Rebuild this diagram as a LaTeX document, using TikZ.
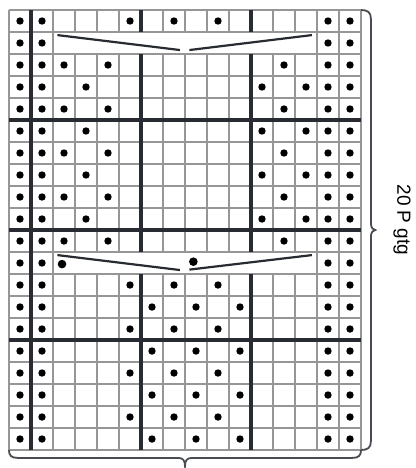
\documentclass[tikz,border=0pt]{standalone}
\usepackage{fontspec}
\setmainfont{Liberation Sans}
\usepackage{xcolor}
\usepackage{tikz}
\definecolor{gridgray}{RGB}{150,150,150}
\definecolor{inkdark}{RGB}{40,43,50}

\begin{document}
\begin{tikzpicture}[x=22pt,y=-22pt,
		gridline/.style={draw=gridgray,line width=1.5pt},
		boldline/.style={draw=inkdark,line width=3.2pt},
		cable/.style={draw=inkdark,line width=2.2pt},
		stitch/.style={fill=black},
		bracket/.style={draw=inkdark!85,line width=1.8pt}]
				\useasboundingbox (-0.409,-0.4545) rectangle (18.4545,20.818);
				\foreach \r in {0,...,20}
					\draw[gridline] (0,\r) -- (16,\r);
				\foreach \c in {0,2,14,15,16}
					\draw[gridline] (\c,0) -- (\c,20);
				\foreach \c in {3,4,5,7,8,9,10,12,13}
					\draw[gridline] (\c,0) -- (\c,1) (\c,2) -- (\c,11) (\c,12) -- (\c,20);
				\draw[boldline] (1,0) -- (1,20);
				\foreach \c in {6,11}
					\draw[boldline] (\c,0) -- (\c,1) (\c,2) -- (\c,11) (\c,12) -- (\c,20);
				\foreach \r in {5,10,15}
					\draw[boldline] (0,\r) -- (16,\r);
				\foreach \r in {0,...,19}
					\foreach \c in {0,1,14,15}
						\fill[stitch] (\c+0.5,\r+0.5) circle (3.7pt);
				\foreach \r in {0,12,14,16,18}
					\foreach \c in {5,7,9}
						\fill[stitch] (\c+0.5,\r+0.5) circle (3.7pt);
				\foreach \r in {13,15,17,19}
					\foreach \c in {6,8,10}
						\fill[stitch] (\c+0.5,\r+0.5) circle (3.7pt);
				\foreach \r in {2,4,6,8,10}
					\foreach \c in {2,4,12}
						\fill[stitch] (\c+0.5,\r+0.5) circle (3.7pt);
				\foreach \r in {3,5,7,9}
					\foreach \c in {3,11,13}
						\fill[stitch] (\c+0.5,\r+0.5) circle (3.7pt);
				\draw[cable] (2.2,1.14) -- (7.77,1.82);
				\draw[cable] (8.2,1.82) -- (13.77,1.14);
				\draw[cable] (2.2,11.14) -- (7.77,11.82);
				\draw[cable] (8.2,11.8) -- (13.77,11.14);
				\fill[stitch] (2.41,11.55) circle (4.3pt);
				\fill[stitch] (8.38,11.44) circle (4.3pt);
				\draw[bracket] (16,0) .. controls (16.3,0) and (16.45,0.1) .. (16.45,0.4) -- (16.45,9.7)
					.. controls (16.45,9.92) and (16.58,10) .. (16.65,10)
					.. controls (16.58,10) and (16.45,10.08) .. (16.45,10.3) -- (16.45,19.6)
					.. controls (16.45,19.9) and (16.3,20) .. (16,20);
				\draw[bracket] (0,20) .. controls (0,20.25) and (0.1,20.36) .. (0.4,20.36) -- (7.7,20.36)
					.. controls (7.92,20.36) and (8,20.5) .. (8,20.72)
					.. controls (8,20.5) and (8.08,20.36) .. (8.3,20.36) -- (15.6,20.36)
					.. controls (15.9,20.36) and (16,20.25) .. (16,20);
				\node[rotate=-90,font=\fontsize{19}{22}\selectfont] (rowcount) at (17.86,9.545) {20 P gtg};
			\end{tikzpicture}
\end{document}
